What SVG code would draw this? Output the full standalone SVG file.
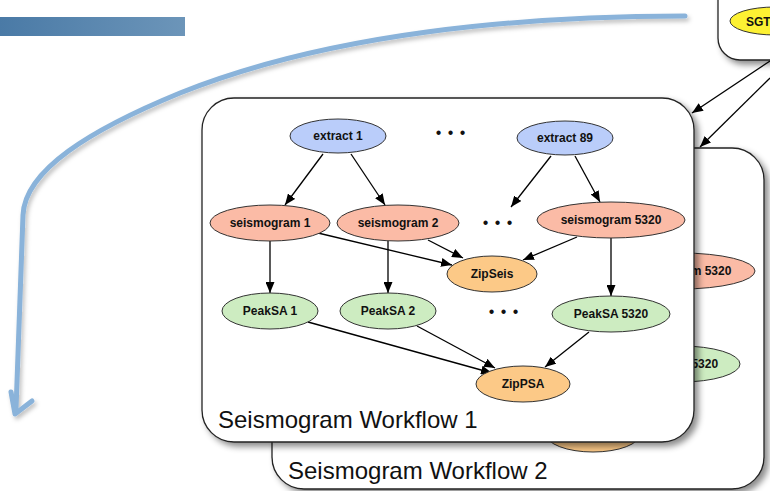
<svg xmlns="http://www.w3.org/2000/svg" width="770" height="491" viewBox="0 0 770 491">
  <defs>
    <linearGradient id="barGrad" x1="0" y1="0" x2="1" y2="0">
      <stop offset="0" stop-color="#4a7aa6"/>
      <stop offset="1" stop-color="#6c95b9"/>
    </linearGradient>
    <filter id="boxShadow" x="-10%" y="-10%" width="125%" height="125%">
      <feDropShadow dx="4" dy="4" stdDeviation="3" flood-color="#000" flood-opacity="0.45"/>
    </filter>
    <filter id="curveShadow" x="-10%" y="-10%" width="125%" height="125%">
      <feDropShadow dx="2" dy="3" stdDeviation="2" flood-color="#000" flood-opacity="0.25"/>
    </filter>
    <marker id="arrow" markerUnits="userSpaceOnUse" markerWidth="12" markerHeight="9" refX="11" refY="4.5" orient="auto">
      <path d="M0,0 L11,4.5 L0,9 z" fill="#000"/>
    </marker>
    <style>
      .box { fill: #fff; stroke: #222; stroke-width: 1.3; filter: url(#boxShadow); }
      .node ellipse { stroke: #333; stroke-width: 1; }
      .node text { font-family: "Liberation Sans", Arial, sans-serif; font-weight: bold; font-size: 12px; fill: #111; text-anchor: middle; }
      .extract { fill: #bacdfa; }
      .seis { fill: #fbbba6; }
      .zip { fill: #fcc987; }
      .peak { fill: #cdecc1; }
      .sgt { fill: #fdf133; }
      .edge { stroke: #000; stroke-width: 1.3; fill: none; marker-end: url(#arrow); }
      .title { font-family: "Liberation Sans", Arial, sans-serif; font-size: 24px; fill: #111; }
      .dots { font-family: "Liberation Sans", Arial, sans-serif; font-size: 16px; fill: #111; text-anchor: middle; letter-spacing: 1px; }
    </style>
  </defs>

  <rect id="header-bar" x="0" y="17" width="185" height="19" fill="url(#barGrad)"/>

  <!-- big flow arrow -->
  <g id="flow-arrow" fill="none" stroke="#8ab3da" stroke-width="5" stroke-linecap="round" stroke-linejoin="round" filter="url(#curveShadow)">
    <path d="M685,16 C520,16 330,33 180,93 C90,130 25,170 23,215 L16,410"/>
    <path d="M11,392 L15,414 L32,401"/>
  </g>

  <!-- SGT source box -->
  <g id="sgt-box">
    <rect class="box" x="718" y="-25" width="90" height="85" rx="22"/>
    <g class="node" id="sgt">
      <ellipse class="sgt" cx="775" cy="21" rx="45" ry="14"/>
      <text x="746" y="25.5" style="text-anchor:start">SGT</text>
    </g>
  </g>

  <!-- Seismogram Workflow 2 (behind) -->
  <g id="workflow2">
    <rect class="box" x="272" y="148" width="492" height="341" rx="32"/>
    <text class="title" x="288" y="479">Seismogram Workflow 2</text>
    <g class="node" id="wf2-seismogram-5320">
      <ellipse class="seis" cx="681" cy="271" rx="74" ry="18"/>
      <text x="681" y="275">seismogram 5320</text>
    </g>
    <g class="node" id="wf2-peaksa-5320">
      <ellipse class="peak" cx="681" cy="364" rx="59" ry="18"/>
      <text x="681" y="368">PeakSA 5320</text>
    </g>
    <g class="node" id="wf2-zippsa">
      <ellipse class="zip" cx="593" cy="434" rx="47" ry="18"/>
      <text x="593" y="438">ZipPSA</text>
    </g>
  </g>

  <!-- Seismogram Workflow 1 (front) -->
  <g id="workflow1">
    <rect class="box" x="202" y="98" width="492" height="344" rx="32"/>
    <text class="title" x="218" y="428">Seismogram Workflow 1</text>
    <text class="dots" x="451" y="138">• • •</text>
    <text class="dots" x="498" y="228">• • •</text>
    <text class="dots" x="504" y="317">• • •</text>
  </g>

  <!-- connectors -->
  <g id="connectors">
    <line class="edge" x1="770" y1="61" x2="692" y2="113"/>
    <line class="edge" x1="770" y1="78" x2="700" y2="147"/>
    <line class="edge" x1="323" y1="154" x2="285" y2="205"/>
    <line class="edge" x1="351" y1="154" x2="385" y2="205"/>
    <line class="edge" x1="551" y1="156" x2="511" y2="207"/>
    <line class="edge" x1="575" y1="156" x2="600" y2="202"/>
    <line class="edge" x1="270" y1="241" x2="270" y2="293"/>
    <line class="edge" x1="388" y1="241" x2="388" y2="293"/>
    <line class="edge" x1="611" y1="238" x2="611" y2="296"/>
    <line class="edge" x1="318" y1="233" x2="452" y2="265"/>
    <line class="edge" x1="428" y1="240" x2="463" y2="258"/>
    <line class="edge" x1="577" y1="237" x2="523" y2="260"/>
    <line class="edge" x1="308" y1="322" x2="492" y2="373"/>
    <line class="edge" x1="417" y1="326" x2="495" y2="368"/>
    <line class="edge" x1="589" y1="332" x2="545" y2="367"/>
  </g>

  <!-- workflow 1 nodes -->
  <g class="node" id="extract-1">
    <ellipse class="extract" cx="338" cy="136" rx="48" ry="17"/>
    <text x="338" y="140">extract 1</text>
  </g>
  <g class="node" id="extract-89">
    <ellipse class="extract" cx="565" cy="138" rx="48" ry="17"/>
    <text x="565" y="142">extract 89</text>
  </g>
  <g class="node" id="seismogram-1">
    <ellipse class="seis" cx="270" cy="223" rx="60" ry="18"/>
    <text x="270" y="227">seismogram 1</text>
  </g>
  <g class="node" id="seismogram-2">
    <ellipse class="seis" cx="398" cy="223" rx="61" ry="18"/>
    <text x="398" y="227">seismogram 2</text>
  </g>
  <g class="node" id="seismogram-5320">
    <ellipse class="seis" cx="611" cy="220" rx="74" ry="18"/>
    <text x="611" y="224">seismogram 5320</text>
  </g>
  <g class="node" id="zipseis">
    <ellipse class="zip" cx="492" cy="274" rx="45" ry="18"/>
    <text x="492" y="278">ZipSeis</text>
  </g>
  <g class="node" id="peaksa-1">
    <ellipse class="peak" cx="270" cy="311" rx="48" ry="18"/>
    <text x="270" y="315">PeakSA 1</text>
  </g>
  <g class="node" id="peaksa-2">
    <ellipse class="peak" cx="388" cy="311" rx="48" ry="18"/>
    <text x="388" y="315">PeakSA 2</text>
  </g>
  <g class="node" id="peaksa-5320">
    <ellipse class="peak" cx="611" cy="314" rx="59" ry="18"/>
    <text x="611" y="318">PeakSA 5320</text>
  </g>
  <g class="node" id="zippsa">
    <ellipse class="zip" cx="523" cy="384" rx="47" ry="18"/>
    <text x="523" y="388">ZipPSA</text>
  </g>
</svg>
